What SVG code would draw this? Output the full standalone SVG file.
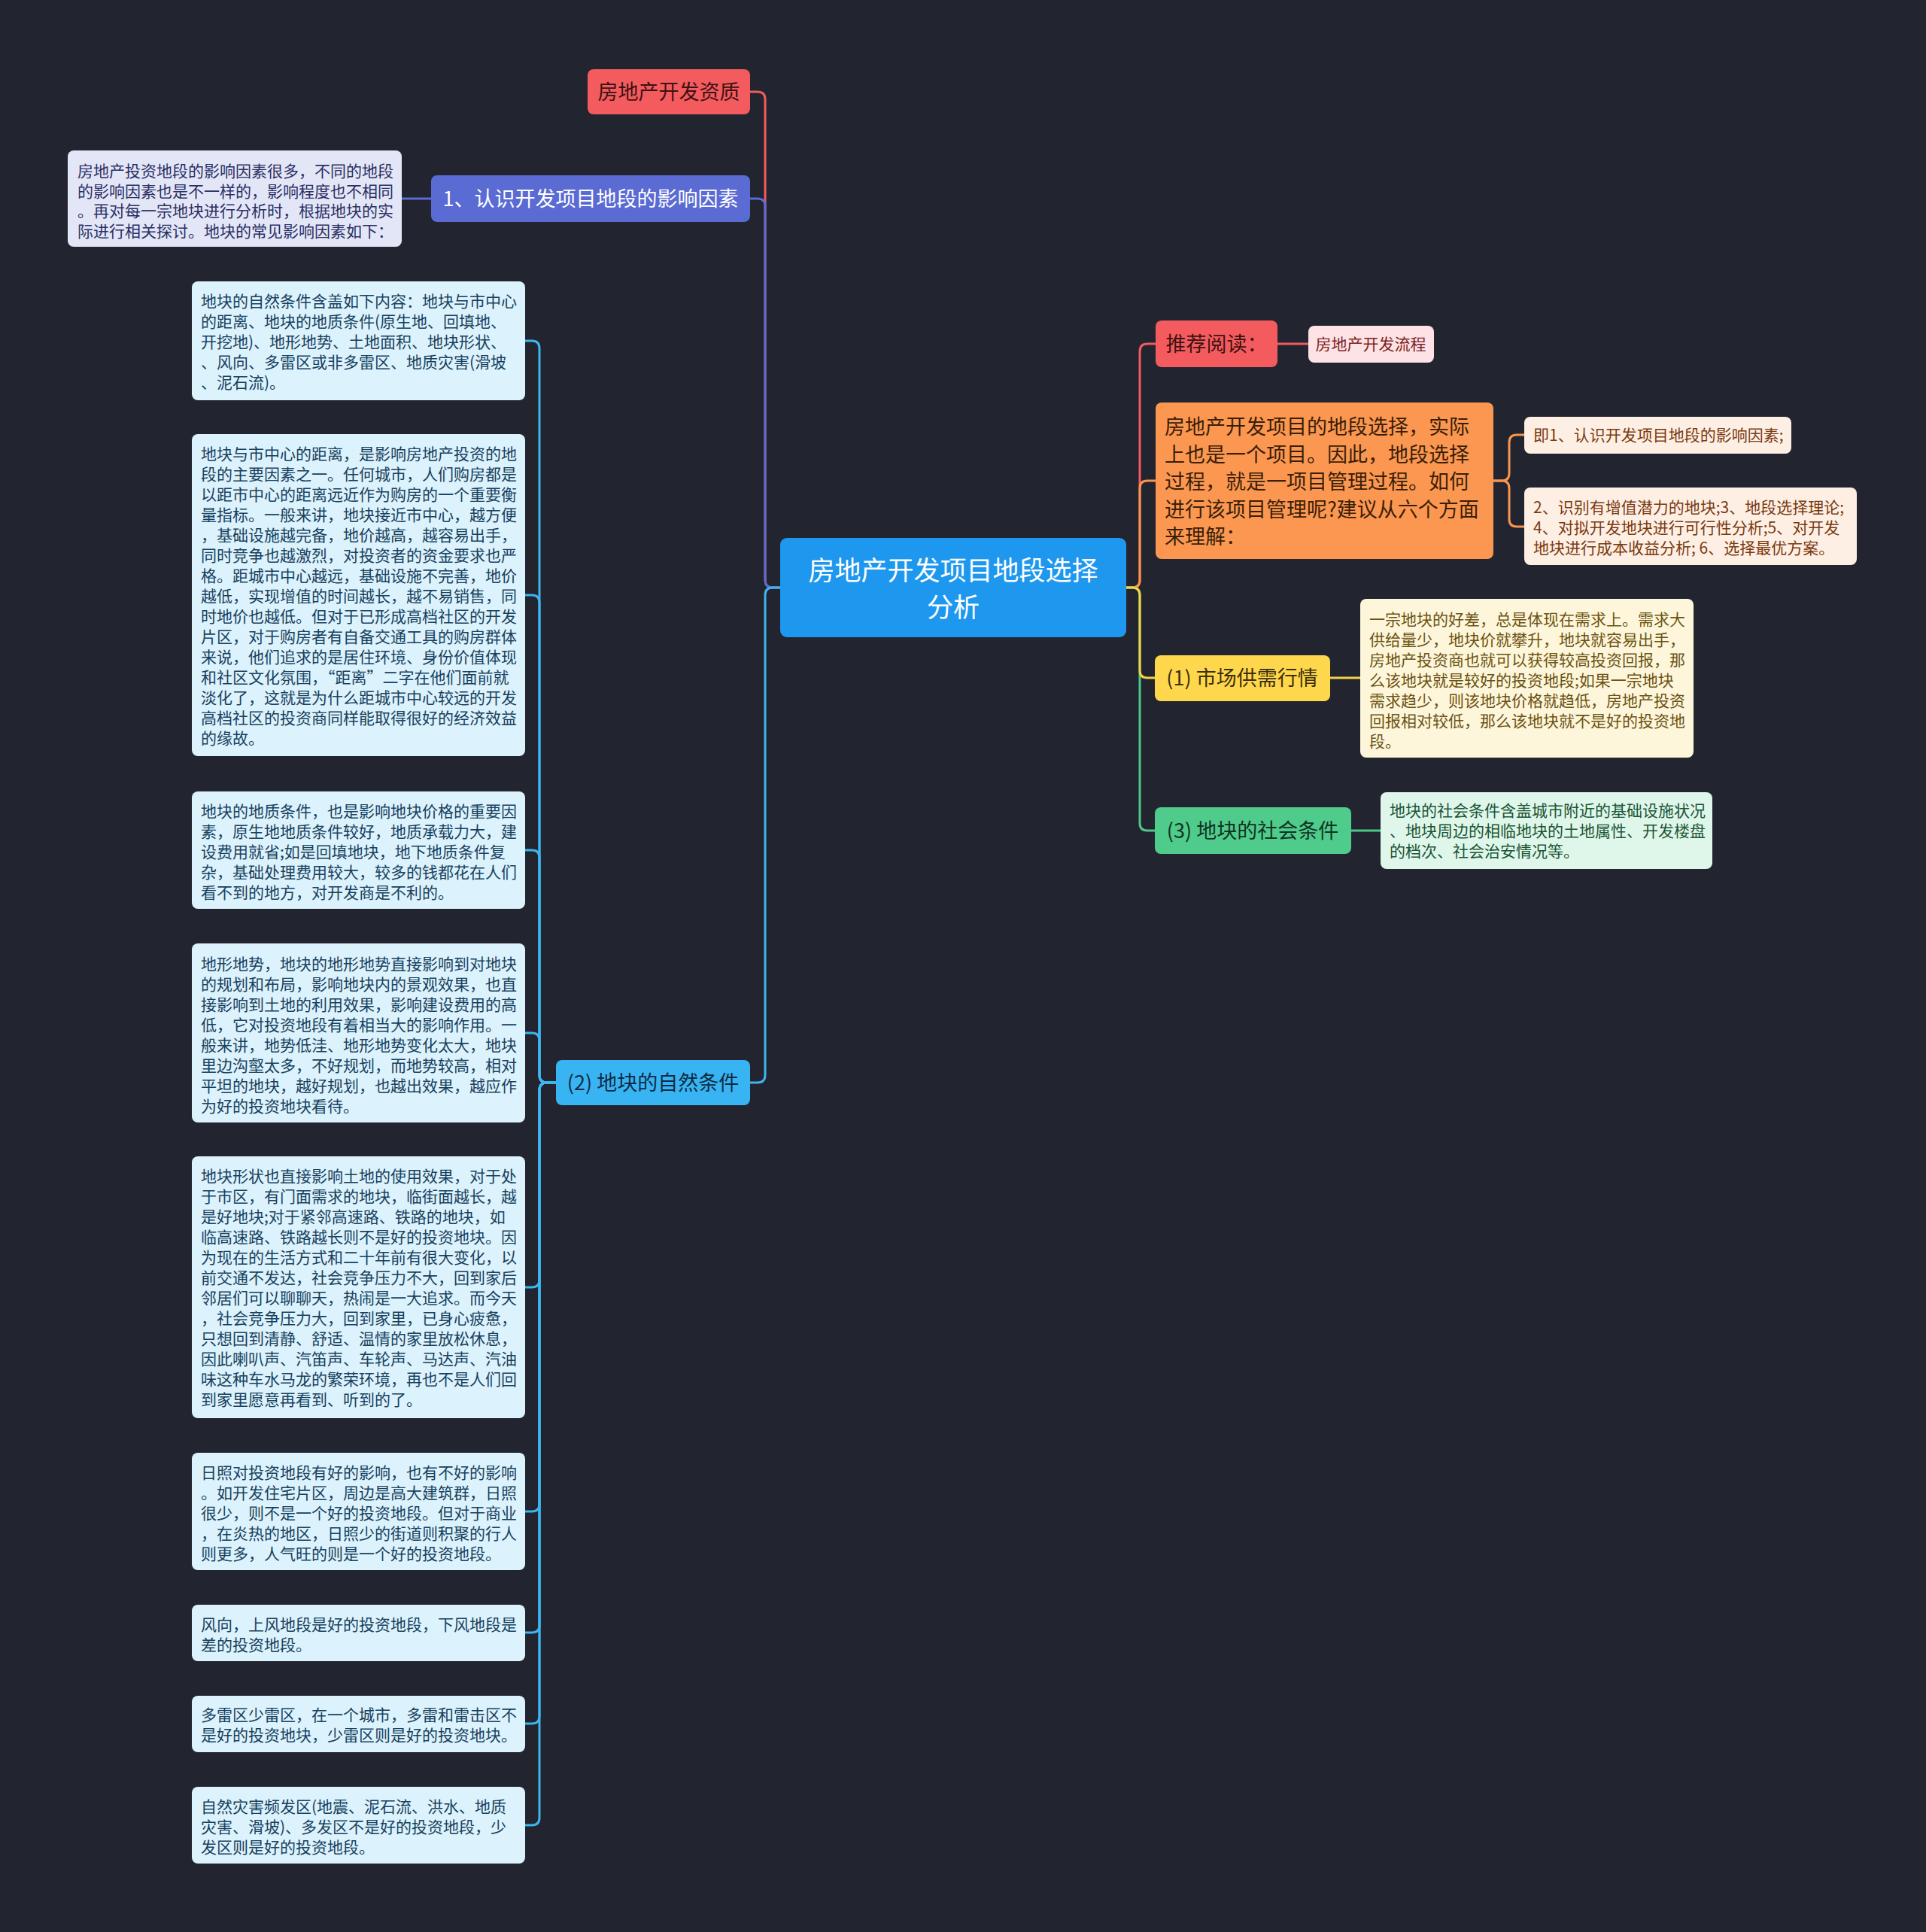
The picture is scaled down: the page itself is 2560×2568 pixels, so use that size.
<svg xmlns="http://www.w3.org/2000/svg" width="2560" height="2568" viewBox="0 0 2560 2568">
<style>
text{font-family:"Noto Sans CJK SC","Noto Sans",sans-serif}
.c{fill:none;stroke-width:3;stroke-linecap:round;stroke-linejoin:round}
.t1{font-size:27px}
.t2{font-size:21px}
.mid{text-anchor:middle}
.leafB rect{fill:#DCF2FC}
.leafB text{fill:#17415e;font-size:21px}
</style>
<rect x="0" y="0" width="2560" height="2568" fill="#222530"/>
<g id="connectors">
  <path class="c" stroke="#F25B5E" d="M1037 781 H1027 Q1017 781 1017 771 V132 Q1017 122 1007 122 H997"/>
  <path class="c" stroke="#5A6BD3" d="M1037 781 H1027 Q1017 781 1017 771 V274 Q1017 264 1007 264 H997"/>
  <path class="c" stroke="#3DB5EF" d="M1037 781 H1027 Q1017 781 1017 791 V1429 Q1017 1439 1007 1439 H997"/>
  <path class="c" stroke="#5A6BD3" d="M573 264 H534"/>
  <g stroke="#3DB5EF">
    <path class="c" d="M739 1439 H727 Q717 1439 717 1429 V463 Q717 453 707 453 H698"/>
    <path class="c" d="M739 1439 H727 Q717 1439 717 1429 V801 Q717 791 707 791 H698"/>
    <path class="c" d="M739 1439 H727 Q717 1439 717 1429 V1140 Q717 1130 707 1130 H698"/>
    <path class="c" d="M739 1439 H727 Q717 1439 717 1429 V1383 Q717 1373 707 1373 H698"/>
    <path class="c" d="M739 1439 H727 Q717 1439 717 1449 V1701 Q717 1711 707 1711 H698"/>
    <path class="c" d="M739 1439 H727 Q717 1439 717 1449 V1999 Q717 2009 707 2009 H698"/>
    <path class="c" d="M739 1439 H727 Q717 1439 717 1449 V2160 Q717 2170 707 2170 H698"/>
    <path class="c" d="M739 1439 H727 Q717 1439 717 1449 V2281 Q717 2291 707 2291 H698"/>
    <path class="c" d="M739 1439 H727 Q717 1439 717 1449 V2416 Q717 2426 707 2426 H698"/>
  </g>
  <path class="c" stroke="#F25B5E" d="M1497 781 H1505 Q1515 781 1515 771 V467 Q1515 457 1525 457 H1536"/>
  <path class="c" stroke="#F8954C" d="M1497 781 H1505 Q1515 781 1515 771 V649 Q1515 639 1525 639 H1536"/>
  <path class="c" stroke="#4CC98A" d="M1497 781 H1505 Q1515 781 1515 791 V1094 Q1515 1104 1525 1104 H1535"/>
  <path class="c" stroke="#F5D146" d="M1497 781 H1505 Q1515 781 1515 791 V891 Q1515 901 1525 901 H1535"/>
  <path class="c" stroke="#F25B5E" d="M1698 457 H1739"/>
  <path class="c" stroke="#F8954C" d="M1985 639 H1996 Q2006 639 2006 629 V588 Q2006 578 2016 578 H2026"/>
  <path class="c" stroke="#F8954C" d="M1985 639 H1996 Q2006 639 2006 649 V690 Q2006 700 2016 700 H2026"/>
  <path class="c" stroke="#F5D146" d="M1768 901 H1808"/>
  <path class="c" stroke="#4CC98A" d="M1796 1104 H1835"/>
</g>

<g id="n-root">
  <rect x="1037" y="715" width="460" height="132" rx="9" fill="#1E98EE"/>
  <text class="mid" x="1267" font-size="35" fill="#ffffff"><tspan x="1267" y="771">房地产开发项目地段选择</tspan><tspan x="1267" y="820">分析</tspan></text>
</g>

<g id="n-zizhi">
  <rect x="781" y="92" width="216" height="60" rx="8" fill="#F45B5E"/>
  <text class="t1 mid" x="889" y="132" fill="#3d1212">房地产开发资质</text>
</g>

<g id="n-renshi">
  <rect x="573" y="233" width="424" height="62" rx="8" fill="#5A6BD3"/>
  <text class="t1 mid" x="785" y="274" fill="#ffffff">1、认识开发项目地段的影响因素</text>
</g>

<g id="n-renshi-leaf">
  <rect x="90" y="200" width="444" height="128" rx="8" fill="#E3E6F7"/>
  <text class="t2" fill="#2b2f63">
    <tspan x="103" y="235">房地产投资地段的影响因素很多，不同的地段</tspan>
    <tspan x="103" y="262">的影响因素也是不一样的，影响程度也不相同</tspan>
    <tspan x="103" y="288">。再对每一宗地块进行分析时，根据地块的实</tspan>
    <tspan x="103" y="315">际进行相关探讨。地块的常见影响因素如下：</tspan>
  </text>
</g>

<g id="n-ziran">
  <rect x="739" y="1409" width="258" height="60" rx="8" fill="#38B4F2"/>
  <text class="t1 mid" x="868" y="1449" fill="#0e2a44">(2) 地块的自然条件</text>
</g>

<g id="n-leaf1" class="leafB">
  <rect x="255" y="374" width="443" height="158" rx="8"/>
  <text>
    <tspan x="267" y="408">地块的自然条件含盖如下内容：地块与市中心</tspan>
    <tspan x="267" y="435">的距离、地块的地质条件(原生地、回填地、</tspan>
    <tspan x="267" y="462">开挖地)、地形地势、土地面积、地块形状、</tspan>
    <tspan x="267" y="489">、风向、多雷区或非多雷区、地质灾害(滑坡</tspan>
    <tspan x="267" y="516">、泥石流)。</tspan>
  </text>
</g>

<g id="n-leaf2" class="leafB">
  <rect x="255" y="577" width="443" height="428" rx="8"/>
  <text>
    <tspan x="267" y="611">地块与市中心的距离，是影响房地产投资的地</tspan>
    <tspan x="267" y="638">段的主要因素之一。任何城市，人们购房都是</tspan>
    <tspan x="267" y="665">以距市中心的距离远近作为购房的一个重要衡</tspan>
    <tspan x="267" y="692">量指标。一般来讲，地块接近市中心，越方便</tspan>
    <tspan x="267" y="719">，基础设施越完备，地价越高，越容易出手，</tspan>
    <tspan x="267" y="746">同时竞争也越激烈，对投资者的资金要求也严</tspan>
    <tspan x="267" y="773">格。距城市中心越远，基础设施不完善，地价</tspan>
    <tspan x="267" y="800">越低，实现增值的时间越长，越不易销售，同</tspan>
    <tspan x="267" y="827">时地价也越低。但对于已形成高档社区的开发</tspan>
    <tspan x="267" y="854">片区，对于购房者有自备交通工具的购房群体</tspan>
    <tspan x="267" y="881">来说，他们追求的是居住环境、身份价值体现</tspan>
    <tspan x="267" y="908">和社区文化氛围，“距离”二字在他们面前就</tspan>
    <tspan x="267" y="935">淡化了，这就是为什么距城市中心较远的开发</tspan>
    <tspan x="267" y="962">高档社区的投资商同样能取得很好的经济效益</tspan>
    <tspan x="267" y="989">的缘故。</tspan>
  </text>
</g>

<g id="n-leaf3" class="leafB">
  <rect x="255" y="1052" width="443" height="156" rx="8"/>
  <text>
    <tspan x="267" y="1086">地块的地质条件，也是影响地块价格的重要因</tspan>
    <tspan x="267" y="1113">素，原生地地质条件较好，地质承载力大，建</tspan>
    <tspan x="267" y="1140">设费用就省;如是回填地块，地下地质条件复</tspan>
    <tspan x="267" y="1167">杂，基础处理费用较大，较多的钱都花在人们</tspan>
    <tspan x="267" y="1194">看不到的地方，对开发商是不利的。</tspan>
  </text>
</g>

<g id="n-leaf4" class="leafB">
  <rect x="255" y="1254" width="443" height="238" rx="8"/>
  <text>
    <tspan x="267" y="1289">地形地势，地块的地形地势直接影响到对地块</tspan>
    <tspan x="267" y="1316">的规划和布局，影响地块内的景观效果，也直</tspan>
    <tspan x="267" y="1343">接影响到土地的利用效果，影响建设费用的高</tspan>
    <tspan x="267" y="1370">低，它对投资地段有着相当大的影响作用。一</tspan>
    <tspan x="267" y="1397">般来讲，地势低洼、地形地势变化太大，地块</tspan>
    <tspan x="267" y="1424">里边沟壑太多，不好规划，而地势较高，相对</tspan>
    <tspan x="267" y="1451">平坦的地块，越好规划，也越出效果，越应作</tspan>
    <tspan x="267" y="1478">为好的投资地块看待。</tspan>
  </text>
</g>

<g id="n-leaf5" class="leafB">
  <rect x="255" y="1537" width="443" height="348" rx="8"/>
  <text>
    <tspan x="267" y="1571">地块形状也直接影响土地的使用效果，对于处</tspan>
    <tspan x="267" y="1598">于市区，有门面需求的地块，临街面越长，越</tspan>
    <tspan x="267" y="1625">是好地块;对于紧邻高速路、铁路的地块，如</tspan>
    <tspan x="267" y="1652">临高速路、铁路越长则不是好的投资地块。因</tspan>
    <tspan x="267" y="1679">为现在的生活方式和二十年前有很大变化，以</tspan>
    <tspan x="267" y="1706">前交通不发达，社会竞争压力不大，回到家后</tspan>
    <tspan x="267" y="1733">邻居们可以聊聊天，热闹是一大追求。而今天</tspan>
    <tspan x="267" y="1760">，社会竞争压力大，回到家里，已身心疲惫，</tspan>
    <tspan x="267" y="1787">只想回到清静、舒适、温情的家里放松休息，</tspan>
    <tspan x="267" y="1814">因此喇叭声、汽笛声、车轮声、马达声、汽油</tspan>
    <tspan x="267" y="1841">味这种车水马龙的繁荣环境，再也不是人们回</tspan>
    <tspan x="267" y="1868">到家里愿意再看到、听到的了。</tspan>
  </text>
</g>

<g id="n-leaf6" class="leafB">
  <rect x="255" y="1931" width="443" height="156" rx="8"/>
  <text>
    <tspan x="267" y="1965">日照对投资地段有好的影响，也有不好的影响</tspan>
    <tspan x="267" y="1992">。如开发住宅片区，周边是高大建筑群，日照</tspan>
    <tspan x="267" y="2019">很少，则不是一个好的投资地段。但对于商业</tspan>
    <tspan x="267" y="2046">，在炎热的地区，日照少的街道则积聚的行人</tspan>
    <tspan x="267" y="2073">则更多，人气旺的则是一个好的投资地段。</tspan>
  </text>
</g>

<g id="n-leaf7" class="leafB">
  <rect x="255" y="2133" width="443" height="75" rx="8"/>
  <text>
    <tspan x="267" y="2167">风向，上风地段是好的投资地段，下风地段是</tspan>
    <tspan x="267" y="2194">差的投资地段。</tspan>
  </text>
</g>

<g id="n-leaf8" class="leafB">
  <rect x="255" y="2254" width="443" height="75" rx="8"/>
  <text>
    <tspan x="267" y="2287">多雷区少雷区，在一个城市，多雷和雷击区不</tspan>
    <tspan x="267" y="2314">是好的投资地块，少雷区则是好的投资地块。</tspan>
  </text>
</g>

<g id="n-leaf9" class="leafB">
  <rect x="255" y="2375" width="443" height="102" rx="8"/>
  <text>
    <tspan x="267" y="2409">自然灾害频发区(地震、泥石流、洪水、地质</tspan>
    <tspan x="267" y="2436">灾害、滑坡)、多发区不是好的投资地段，少</tspan>
    <tspan x="267" y="2463">发区则是好的投资地段。</tspan>
  </text>
</g>

<g id="n-tuijian">
  <rect x="1536" y="426" width="162" height="62" rx="8" fill="#F45B5E"/>
  <text class="t1 mid" x="1617" y="467" fill="#3d1212">推荐阅读：</text>
</g>

<g id="n-liucheng">
  <rect x="1739" y="433" width="167" height="49" rx="8" fill="#FDE3E5"/>
  <text class="t2 mid" x="1822" y="465" fill="#7d1f25">房地产开发流程</text>
</g>

<g id="n-orange">
  <rect x="1536" y="535" width="449" height="208" rx="8" fill="#FB9750"/>
  <text class="t1" fill="#3a1e08">
    <tspan x="1548" y="577">房地产开发项目的地段选择，实际</tspan>
    <tspan x="1548" y="614">上也是一个项目。因此，地段选择</tspan>
    <tspan x="1548" y="650">过程，就是一项目管理过程。如何</tspan>
    <tspan x="1548" y="687">进行该项目管理呢?建议从六个方面</tspan>
    <tspan x="1548" y="723">来理解：</tspan>
  </text>
</g>

<g id="n-ji1">
  <rect x="2026" y="554" width="355" height="49" rx="8" fill="#FEEFE4"/>
  <text class="t2" x="2038" y="586" fill="#7a3a10">即1、认识开发项目地段的影响因素;</text>
</g>

<g id="n-steps">
  <rect x="2026" y="648" width="442" height="103" rx="8" fill="#FEEFE4"/>
  <text class="t2" fill="#7a3a10">
    <tspan x="2038" y="682">2、识别有增值潜力的地块;3、地段选择理论;</tspan>
    <tspan x="2038" y="709">4、对拟开发地块进行可行性分析;5、对开发</tspan>
    <tspan x="2038" y="736">地块进行成本收益分析; 6、选择最优方案。</tspan>
  </text>
</g>

<g id="n-market">
  <rect x="1535" y="871" width="233" height="61" rx="8" fill="#FFD74D"/>
  <text class="t1 mid" x="1651" y="911" fill="#3c300a">(1) 市场供需行情</text>
</g>

<g id="n-market-leaf">
  <rect x="1808" y="796" width="443" height="211" rx="8" fill="#FEF6DA"/>
  <text class="t2" fill="#6b5313">
    <tspan x="1820" y="831">一宗地块的好差，总是体现在需求上。需求大</tspan>
    <tspan x="1820" y="858">供给量少，地块价就攀升，地块就容易出手，</tspan>
    <tspan x="1820" y="885">房地产投资商也就可以获得较高投资回报，那</tspan>
    <tspan x="1820" y="912">么该地块就是较好的投资地段;如果一宗地块</tspan>
    <tspan x="1820" y="939">需求趋少，则该地块价格就趋低，房地产投资</tspan>
    <tspan x="1820" y="966">回报相对较低，那么该地块就不是好的投资地</tspan>
    <tspan x="1820" y="993">段。</tspan>
  </text>
</g>

<g id="n-social">
  <rect x="1535" y="1073" width="261" height="62" rx="8" fill="#4FCB8B"/>
  <text class="t1 mid" x="1665" y="1114" fill="#0f3322">(3) 地块的社会条件</text>
</g>

<g id="n-social-leaf">
  <rect x="1835" y="1053" width="441" height="102" rx="8" fill="#DFF6EA"/>
  <text class="t2" fill="#1a5535">
    <tspan x="1847" y="1085">地块的社会条件含盖城市附近的基础设施状况</tspan>
    <tspan x="1847" y="1112">、地块周边的相临地块的土地属性、开发楼盘</tspan>
    <tspan x="1847" y="1139">的档次、社会治安情况等。</tspan>
  </text>
</g>
</svg>
